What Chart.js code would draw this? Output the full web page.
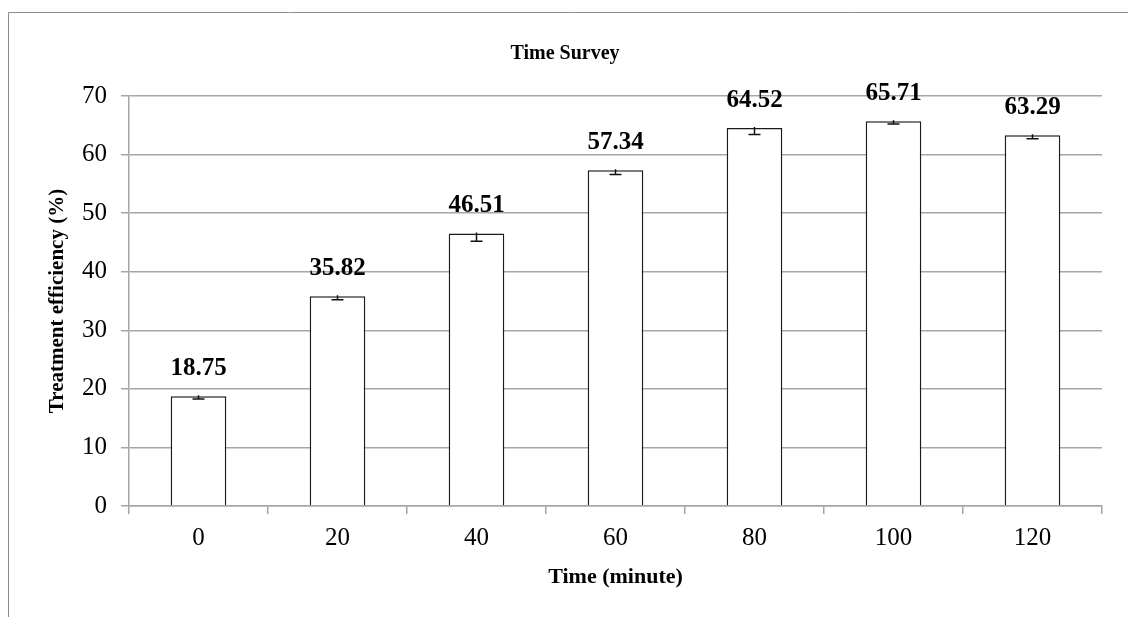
<!DOCTYPE html>
<html>
<head>
<meta charset="utf-8">
<style>
  html, body { margin: 0; padding: 0; background: #ffffff; }
  #wrap { width: 1128px; height: 617px; position: relative; }
</style>
<script src="https://cdn.jsdelivr.net/npm/chart.js@4.4.1/dist/chart.umd.min.js"></script>
</head>
<body>
<div id="wrap"><canvas id="c" width="1128" height="617"></canvas></div>
<script>
const categories = ['0', '20', '40', '60', '80', '100', '120'];
const efficiency = [18.75, 35.82, 46.51, 57.34, 64.52, 65.71, 63.29];
const errors = [0.5, 0.6, 1.3, 0.75, 1.1, 0.5, 0.6];
const yTicks = [0, 10, 20, 30, 40, 50, 60, 70];
const chartTitle = 'Time Survey';

const SERIF = '"Liberation Serif", "Times New Roman", serif';

const framePlugin = {
  id: 'frame',
  beforeDraw(chart) {
    const ctx = chart.ctx;
    ctx.save();
    ctx.fillStyle = '#ffffff';
    ctx.fillRect(0, 0, chart.width, chart.height);
    ctx.strokeStyle = '#8c8c8c';
    ctx.lineWidth = 1;
    ctx.beginPath();
    ctx.moveTo(8.5, chart.height);
    ctx.lineTo(8.5, 12.5);
    ctx.lineTo(chart.width, 12.5);
    ctx.stroke();
    // chart title, centred on the outer frame
    ctx.fillStyle = '#000000';
    ctx.font = 'bold 20px ' + SERIF;
    ctx.textAlign = 'center';
    ctx.textBaseline = 'middle';
    ctx.fillText(chartTitle, 565, 54);
    ctx.restore();
  }
};

const errorBarPlugin = {
  id: 'errorBars',
  afterDatasetsDraw(chart) {
    const ctx = chart.ctx;
    const meta = chart.getDatasetMeta(0);
    const y = chart.scales.y;
    ctx.save();
    ctx.strokeStyle = '#111111';
    ctx.lineWidth = 1.5;
    meta.data.forEach((bar, i) => {
      const v = efficiency[i];
      const e = errors[i];
      const yTop = y.getPixelForValue(v);
      const yLow = y.getPixelForValue(v - e);
      const x = bar.x;
      ctx.beginPath();
      ctx.moveTo(x, yTop - 1);
      ctx.lineTo(x, yLow);
      ctx.moveTo(x - 6, yLow);
      ctx.lineTo(x + 6, yLow);
      ctx.stroke();
    });
    ctx.restore();
  }
};

const valueLabelPlugin = {
  id: 'valueLabels',
  afterDatasetsDraw(chart) {
    const ctx = chart.ctx;
    const meta = chart.getDatasetMeta(0);
    ctx.save();
    ctx.fillStyle = '#000000';
    ctx.font = 'bold 25px ' + SERIF;
    ctx.textAlign = 'center';
    ctx.textBaseline = 'middle';
    meta.data.forEach((bar, i) => {
      ctx.fillText(efficiency[i].toFixed(2), bar.x, bar.y - 28);
    });
    ctx.restore();
  }
};

new Chart(document.getElementById('c'), {
  type: 'bar',
  data: {
    labels: categories,
    datasets: [{
      data: efficiency,
      backgroundColor: '#ffffff',
      borderColor: '#1a1a1a',
      borderWidth: 1.5,
      categoryPercentage: 1.0,
      barPercentage: 0.4
    }]
  },
  options: {
    responsive: false,
    animation: false,
    devicePixelRatio: 1,
    layout: { padding: { left: 0, right: 26, top: 96, bottom: 0 } },
    plugins: {
      legend: { display: false },
      tooltip: { enabled: false },
      title: { display: false }
    },
    scales: {
      x: {
        offset: true,
        grid: {
          offset: true,
          drawOnChartArea: false,
          drawTicks: true,
          tickLength: 8,
          color: '#a6a6a6',
          lineWidth: 1.5
        },
        border: { display: true, color: '#a6a6a6', width: 1.5 },
        ticks: {
          color: '#000000',
          font: { family: SERIF, size: 25 },
          padding: 9,
          maxRotation: 0
        },
        title: {
          display: true,
          text: 'Time (minute)',
          color: '#000000',
          font: { family: SERIF, size: 22, weight: 'bold' },
          padding: { top: 0, bottom: 26 }
        },
        afterFit(scale) { scale.height = 111; }
      },
      y: {
        min: 0,
        max: 70,
        afterBuildTicks(scale) { scale.ticks = yTicks.map(v => ({ value: v })); },
        grid: {
          drawTicks: true,
          tickLength: 8,
          color: '#a6a6a6',
          lineWidth: 1.5
        },
        border: { display: true, color: '#a6a6a6', width: 1.5 },
        ticks: {
          color: '#000000',
          font: { family: SERIF, size: 25 },
          padding: 14
        },
        title: {
          display: true,
          text: 'Treatment efficiency (%)',
          color: '#000000',
          font: { family: SERIF, size: 21, weight: 'bold' },
          padding: { top: 45, bottom: 0 }
        },
        afterFit(scale) { scale.width = 129; }
      }
    }
  },
  plugins: [framePlugin, errorBarPlugin, valueLabelPlugin]
});
</script>
</body>
</html>
